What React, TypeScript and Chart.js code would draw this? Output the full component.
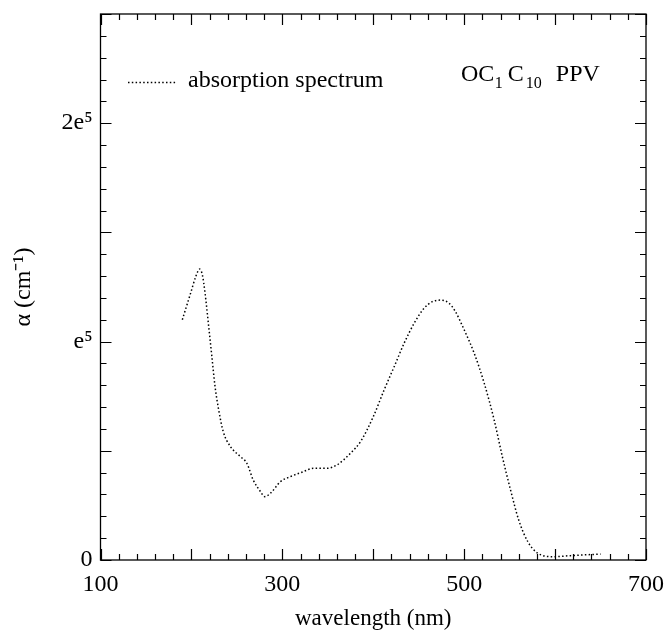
import React, { useEffect, useRef } from "react";
import { Chart, registerables } from "chart.js";

Chart.register(...registerables);

const wavelengths = [190, 199, 205, 209, 212, 215, 219, 222.5, 226, 230, 235, 243, 254, 261, 268, 276, 280.5, 287, 298, 309, 323, 334, 349, 360, 375, 386, 400, 412, 423, 434, 445, 456, 465, 474, 483, 490, 500, 511, 522, 533, 542, 551, 560, 570, 581, 599, 617, 650];
const absorption = [110000, 122000, 130000, 133200, 130600, 122200, 106900, 93100, 79400, 68700, 58800, 51900, 47300, 44300, 36600, 31300, 29000, 30600, 35900, 38200, 40400, 42000, 42000, 43500, 48900, 54200, 65600, 77900, 88500, 99300, 108400, 115300, 118300, 119000, 117700, 114000, 105400, 94700, 81000, 64100, 47300, 32100, 18300, 8400, 3100, 1500, 2000, 2700];

const xLabeled = [100, 300, 500, 700];
const yLabels: Record<number, string> = { 0: "0", 100000: "e\u2075", 200000: "2e\u2075" };

const seriesLabel = "absorption spectrum";
const FONT = "'Liberation Serif', 'Times New Roman', serif";
const DASH = [1.5, 2.3];

const decorPlugin = {
  id: "decor",
  afterDatasetsDraw(chart: any) {
    const { ctx, chartArea, scales } = chart;
    const { left, right, top, bottom } = chartArea;
    const x = scales.x;
    const y = scales.y;
    ctx.save();
    ctx.strokeStyle = "#000";
    ctx.lineWidth = 1.3;
    ctx.strokeRect(left, top, right - left, bottom - top);
    ctx.lineWidth = 1.2;
    ctx.beginPath();
    x.ticks.forEach((t: any) => {
      const px = Math.round(x.getPixelForValue(t.value)) + 0.5;
      const len = t.value % 100 === 0 ? 11 : 6;
      ctx.moveTo(px, bottom);
      ctx.lineTo(px, bottom - len);
      ctx.moveTo(px, top);
      ctx.lineTo(px, top + len);
    });
    y.ticks.forEach((t: any) => {
      const py = Math.round(y.getPixelForValue(t.value)) + 0.5;
      const len = t.value % 50000 === 0 ? 11 : 6;
      ctx.moveTo(left, py);
      ctx.lineTo(left + len, py);
      ctx.moveTo(right, py);
      ctx.lineTo(right - len, py);
    });
    ctx.stroke();

    // legend
    const ds = chart.data.datasets[0];
    ctx.setLineDash(DASH);
    ctx.lineWidth = ds.borderWidth;
    ctx.beginPath();
    ctx.moveTo(128, 82.5);
    ctx.lineTo(176, 82.5);
    ctx.stroke();
    ctx.setLineDash([]);
    ctx.fillStyle = "#000";
    ctx.textBaseline = "alphabetic";
    ctx.textAlign = "left";
    ctx.font = `24px ${FONT}`;
    ctx.fillText(ds.label, 188, 87);

    // title OC1 C10 PPV
    let cx = 461;
    const big = `24px ${FONT}`;
    const small = `16px ${FONT}`;
    const base = 81;
    const piece = (txt: string, f: string, dy: number, gapAfter: number) => {
      ctx.font = f;
      ctx.fillText(txt, cx, base + dy);
      cx += ctx.measureText(txt).width + gapAfter;
    };
    piece("OC", big, 0, 0.5);
    piece("1", small, 7, 5);
    piece("C", big, 0, 2);
    piece("10", small, 7, 14);
    piece("PPV", big, 0, 0);
    ctx.restore();
  },
};

export default function App() {
  const ref = useRef<HTMLCanvasElement | null>(null);
  useEffect(() => {
    if (!ref.current) return;
    const chart = new Chart(ref.current, {
      type: "line",
      data: {
        datasets: [
          {
            label: seriesLabel,
            data: wavelengths.map((w, i) => ({ x: w, y: absorption[i] })),
            borderColor: "#000",
            borderWidth: 1.5,
            borderDash: DASH,
            pointRadius: 0,
            fill: false,
            cubicInterpolationMode: "monotone",
          },
        ],
      },
      options: {
        animation: false,
        responsive: false,
        devicePixelRatio: 1,
        layout: { padding: { top: 14, right: 19, left: 0, bottom: 0 } },
        plugins: { legend: { display: false }, tooltip: { enabled: false } },
        scales: {
          x: {
            type: "linear",
            min: 100,
            max: 700,
            grid: { display: false, drawTicks: false },
            border: { display: false },
            ticks: {
              stepSize: 20,
              autoSkip: false,
              maxRotation: 0,
              padding: 10,
              color: "#000",
              font: { family: FONT, size: 24 },
              callback: (v: any) => (xLabeled.includes(Number(v)) ? String(v) : ""),
            },
            title: {
              display: true,
              text: "wavelength (nm)",
              color: "#000",
              font: { family: FONT, size: 23, lineHeight: 1 },
              padding: { top: 0, bottom: 0 },
            },
            afterFit: (s: any) => {
              s.height = 70;
              s.paddingLeft = 0;
              s.paddingRight = 0;
            },
          },
          y: {
            type: "linear",
            min: 0,
            max: 250000,
            grid: { display: false, drawTicks: false },
            border: { display: false },
            ticks: {
              stepSize: 10000,
              autoSkip: false,
              padding: 8,
              color: "#000",
              font: { family: FONT, size: 24 },
              callback: (v: any) => yLabels[Number(v)] ?? "",
            },
            title: {
              display: true,
              text: "\u03b1 (cm\u207b\u00b9)",
              color: "#000",
              font: { family: FONT, size: 24 },
              padding: { top: 9, bottom: 0 },
            },
            afterFit: (s: any) => {
              s.width = 100.5;
              s.paddingTop = 0;
              s.paddingBottom = 0;
            },
          },
        },
      },
      plugins: [decorPlugin],
    });
    return () => chart.destroy();
  }, []);
  return (
    <div style={{ position: "fixed", left: 0, top: 0, width: 665, height: 630, background: "#fff" }}>
      <canvas ref={ref} width={665} height={630} />
    </div>
  );
}
